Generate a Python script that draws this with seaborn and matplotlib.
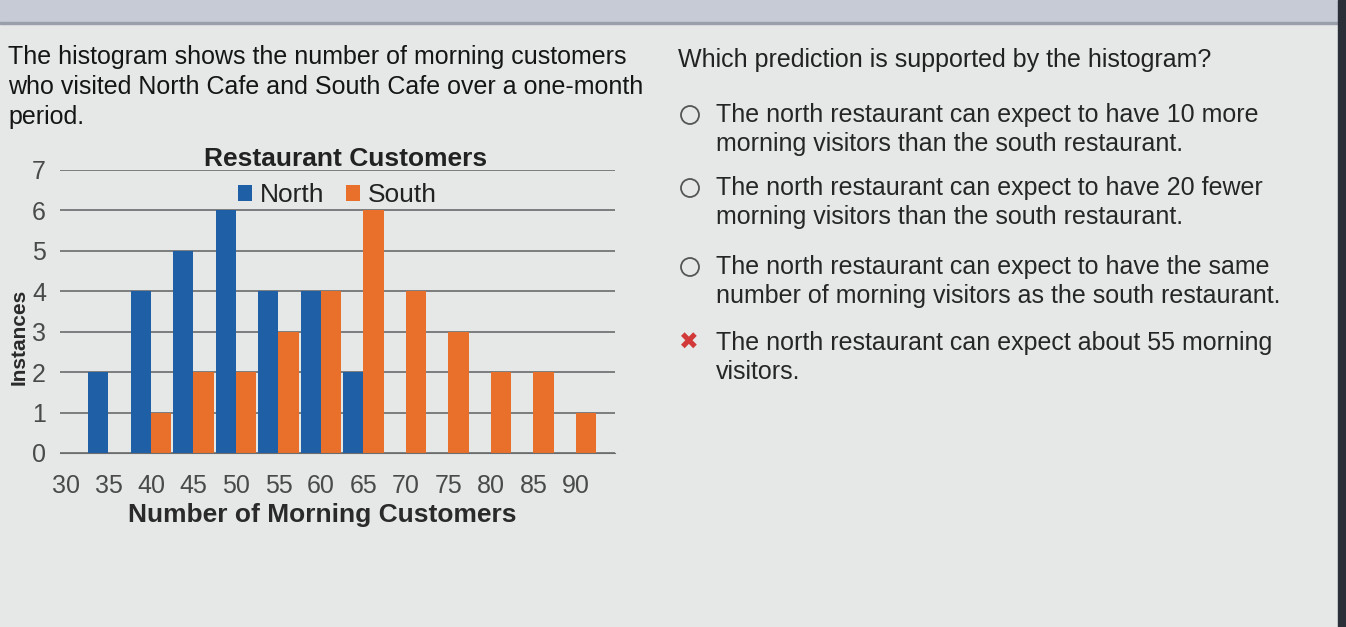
import pandas as pd
import seaborn as sns
import matplotlib.pyplot as plt
from matplotlib.patches import Rectangle, Ellipse

# histogram data
bins = [35, 40, 45, 50, 55, 60, 65, 70, 75, 80, 85, 90]
north = [2, 4, 5, 6, 4, 4, 2, 0, 0, 0, 0, 0]
south = [0, 1, 2, 2, 3, 4, 6, 4, 3, 2, 2, 1]
x_ticks = [30, 35, 40, 45, 50, 55, 60, 65, 70, 75, 80, 85, 90]
y_ticks = [0, 1, 2, 3, 4, 5, 6, 7]

intro = ["The histogram shows the number of morning customers",
         "who visited North Cafe and South Cafe over a one-month",
         "period."]
question = "Which prediction is supported by the histogram?"
options = [
    ["The north restaurant can expect to have 10 more",
     "morning visitors than the south restaurant."],
    ["The north restaurant can expect to have 20 fewer",
     "morning visitors than the south restaurant."],
    ["The north restaurant can expect to have the same",
     "number of morning visitors as the south restaurant."],
    ["The north restaurant can expect about 55 morning",
     "visitors."],
]

BG = "#e5e8e7"
BLUE = "#1f5fa6"
ORANGE = "#e8702a"

sns.set_style("white")
plt.rcParams["font.family"] = ["Liberation Sans", "DejaVu Sans"]

df = pd.DataFrame({
    "customers": bins * 2,
    "count": north + south,
    "cafe": ["North"] * len(bins) + ["South"] * len(bins),
})

W, H = 1346, 627
fig = plt.figure(figsize=(W / 100, H / 100), dpi=100, facecolor=BG)

# screen edges from the photo
fig.patches.append(Rectangle((0, 1 - 22 / H), 1, 22 / H, transform=fig.transFigure,
                             color="#c6cbd5", zorder=0))
fig.patches.append(Rectangle((0, 1 - 24 / H), 1, 2 / H, transform=fig.transFigure,
                             color="#9aa0aa", zorder=0))
fig.patches.append(Rectangle((1 - 8 / W, 0), 8 / W, 1, transform=fig.transFigure,
                             color="#2b3038", zorder=0))

ax = fig.add_axes([60 / W, 1 - 453 / H, 555 / W, 283 / H])
ax.set_facecolor("none")

sns.barplot(data=df, x="customers", y="count", hue="cafe", native_scale=True,
            palette={"North": BLUE, "South": ORANGE}, width=0.96,
            linewidth=0, saturation=1, ax=ax)

ax.set_xlim(29.3, 94.6)
ax.set_ylim(0, 7)
ax.set_xticks(x_ticks)
ax.set_yticks(y_ticks)
ax.set_axisbelow(True)
ax.yaxis.grid(True, color="#5e6062", linewidth=1.1)
for s in ["top", "right", "left"]:
    ax.spines[s].set_visible(False)
ax.spines["bottom"].set_color("#6a6c6e")
ax.tick_params(axis="x", length=5, color="#6a6c6e", labelsize=18, labelcolor="#4a4a4a", pad=10)
ax.tick_params(axis="y", length=5, color="#6a6c6e", labelsize=18, labelcolor="#4a4a4a", pad=5)

ax.set_xlabel("Number of Morning Customers", fontsize=19, fontweight="bold", color="#2a2a2a")
ax.xaxis.set_label_coords((322 - 60) / 555, -50 / 283)
ax.set_ylabel("Instances", fontsize=15, fontweight="bold", color="#2a2a2a")
ax.yaxis.set_label_coords(-31 / 555, 0.41)
ax.set_title("Restaurant Customers", fontsize=19, fontweight="bold", color="#222222",
             pad=3, x=0.515)

leg = ax.legend(loc="upper center", bbox_to_anchor=(0.5, 0.99), ncol=2, frameon=False,
                fontsize=19, handlelength=0.55, handleheight=0.55, handletextpad=0.3,
                columnspacing=0.8, borderaxespad=0)
for t in leg.get_texts():
    t.set_color("#222222")

# question text
def px(x, y):
    return x / W, 1 - y / H

for i, line in enumerate(intro):
    fig.text(*px(8, 57 + i * 30), line, fontsize=18, color="#151515", va="center")

fig.text(*px(678, 60), question, fontsize=18, color="#222222", va="center")

opt_y = [115, 188, 267, 343]
for k, (y0, lines) in enumerate(zip(opt_y, options)):
    for j, line in enumerate(lines):
        fig.text(*px(716, y0 + j * 29), line, fontsize=18, color="#262626", va="center")
    if k < 3:
        fig.patches.append(Ellipse(px(690, y0), 18 / W, 18 / H, transform=fig.transFigure,
                                   facecolor="none", edgecolor="#555555", linewidth=1.3))
    else:
        fig.text(*px(689, y0), "\u2716", fontsize=17, color="#d23a3a",
                 ha="center", va="center", family="DejaVu Sans")

fig.savefig("out.png", dpi=100, facecolor=BG)
